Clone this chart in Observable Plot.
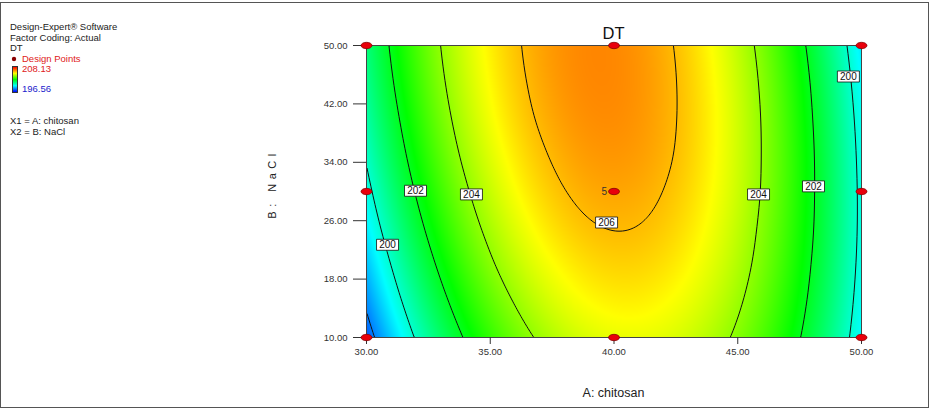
<!DOCTYPE html>
<html><head><meta charset="utf-8">
<script src="https://cdn.jsdelivr.net/npm/d3@7"></script>
<script src="https://cdn.jsdelivr.net/npm/@observablehq/plot@0.6"></script>
<style>
body{margin:0;background:#fff;font-family:Arial,"Liberation Sans",sans-serif;}
#wrap{position:relative;width:934px;height:410px;overflow:hidden;background:#fff;}
#border{position:absolute;left:0px;top:2px;width:929px;height:406px;border:1px solid #555;box-sizing:border-box;pointer-events:none;}
#chart{position:absolute;left:0;top:0;}
#over{position:absolute;left:0;top:0;}
#bar{position:absolute;left:12px;top:66px;width:4px;height:25px;border:1px solid #333;background:linear-gradient(to bottom,#ff0000,#ffff00,#00ff00,#00ffff,#0000ff);}
</style></head><body><div id="wrap"><div id="chart"></div>
<svg id="over" width="934" height="410"></svg><div id="bar"></div><div id="border"></div></div>
<script>
// Factor levels of the sampled grid
const A_levels = [30, 32, 34, 36, 38, 40, 42, 44, 46, 48, 50];
const B_levels = [10, 15, 20, 25, 30, 35, 40, 45, 50];
// DT, one row per NaCl level (A = 30 ... 50)
const DT_B10 = [197.55, 200.08, 202.09, 203.57, 204.54, 204.99, 204.92, 204.33, 203.21, 201.58, 199.43];
const DT_B15 = [198.18, 200.66, 202.62, 204.06, 204.99, 205.39, 205.27, 204.64, 203.48, 201.80, 199.60];
const DT_B20 = [198.74, 201.18, 203.10, 204.50, 205.37, 205.73, 205.57, 204.89, 203.69, 201.96, 199.72];
const DT_B25 = [199.26, 201.65, 203.52, 204.87, 205.71, 206.02, 205.81, 205.08, 203.83, 202.07, 199.78];
const DT_B30 = [199.71, 202.06, 203.88, 205.19, 205.98, 206.25, 205.99, 205.22, 203.93, 202.11, 199.78];
const DT_B35 = [200.11, 202.41, 204.19, 205.45, 206.19, 206.42, 206.12, 205.30, 203.96, 202.10, 199.72];
const DT_B40 = [200.45, 202.70, 204.44, 205.66, 206.35, 206.53, 206.18, 205.32, 203.94, 202.03, 199.61];
const DT_B45 = [200.73, 202.94, 204.63, 205.80, 206.45, 206.58, 206.19, 205.28, 203.86, 201.91, 199.44];
const DT_B50 = [200.95, 203.12, 204.76, 205.89, 206.49, 206.58, 206.15, 205.19, 203.72, 201.72, 199.21];
const dtRows = [DT_B10, DT_B15, DT_B20, DT_B25, DT_B30, DT_B35, DT_B40, DT_B45, DT_B50];

// Contour levels and their labels
const contourLevels = [198, 200, 202, 204, 206];
const labelLevel = [200, 202, 204, 206, 204, 202, 200];
const labelA = [30.85, 31.98, 34.24, 39.70, 45.84, 48.06, 49.47];
const labelB = [22.7, 30.1, 29.6, 25.75, 29.6, 30.7, 45.75];

// Design points
const designA = [30, 30, 30, 40, 40, 40, 50, 50, 50];
const designB = [10, 30, 50, 10, 30, 50, 10, 30, 50];
const designRuns = [1, 1, 1, 1, 5, 1, 1, 1, 1];

// Ticks and legend
const xTicks = [30, 35, 40, 45, 50];
const yTicks = [10, 18, 26, 34, 42, 50];
const dtMax = 208.13, dtMin = 196.56;
const colorStops = ["#0000ff", "#00ffff", "#00ff00", "#ffff00", "#ff0000"];

const points = B_levels.flatMap((B, j) => A_levels.map((A, i) => ({A, B, DT: dtRows[j][i]})));
const labels = labelLevel.map((v, i) => ({A: labelA[i], B: labelB[i], v}));
const design = designA.map((A, i) => ({A, B: designB[i], runs: designRuns[i]}));

// Smooth (Catmull-Rom bicubic) interpolator over the regular sample grid, for Plot's raster/contour
function bicubic(index, w, h, X, Y, V) {
  const nc = A_levels.length, nr = B_levels.length;
  let x0 = Infinity, x1 = -Infinity, y0 = Infinity, y1 = -Infinity;
  for (const i of index) { x0 = Math.min(x0, X[i]); x1 = Math.max(x1, X[i]); y0 = Math.min(y0, Y[i]); y1 = Math.max(y1, Y[i]); }
  const G = Array.from({length: nr}, () => new Float64Array(nc));
  for (const i of index) {
    const c = Math.round((X[i] - x0) / (x1 - x0) * (nc - 1));
    const r = Math.round((Y[i] - y0) / (y1 - y0) * (nr - 1));
    G[r][c] = V[i];
  }
  const cub = (p0, p1, p2, p3, t) =>
    0.5 * (2 * p1 + (p2 - p0) * t + (2 * p0 - 5 * p1 + 4 * p2 - p3) * t * t + (3 * p1 - p0 - 3 * p2 + p3) * t * t * t);
  const at = (arr, k, n) => k < 0 ? 3 * arr[0] - 3 * arr[1] + arr[2]
    : k > n - 1 ? 3 * arr[n - 1] - 3 * arr[n - 2] + arr[n - 3] : arr[k];
  const interp1 = (arr, n, u) => {
    let k = Math.floor(u); if (k >= n - 1) k = n - 2; if (k < 0) k = 0;
    const t = u - k;
    return cub(at(arr, k - 1, n), at(arr, k, n), at(arr, k + 1, n), at(arr, k + 2, n), t);
  };
  const out = new Float64Array(w * h);
  const rowCache = new Float64Array(nr);
  for (let px = 0; px < w; ++px) {
    let u = (px + 0.5 - x0) / (x1 - x0) * (nc - 1);
    u = Math.max(0, Math.min(nc - 1, u));
    for (let r = 0; r < nr; ++r) rowCache[r] = interp1(G[r], nc, u);
    for (let py = 0; py < h; ++py) {
      let v = (py + 0.5 - y0) / (y1 - y0) * (nr - 1);
      v = Math.max(0, Math.min(nr - 1, v));
      out[py * w + px] = interp1(rowCache, nr, v);
    }
  }
  return out;
}

const k = 0.5523;
const ellipse = {draw(ctx) {
  const rx = 5.5, ry = 3.2;
  ctx.moveTo(rx, 0);
  ctx.bezierCurveTo(rx, ry * k, rx * k, ry, 0, ry);
  ctx.bezierCurveTo(-rx * k, ry, -rx, ry * k, -rx, 0);
  ctx.bezierCurveTo(-rx, -ry * k, -rx * k, -ry, 0, -ry);
  ctx.bezierCurveTo(rx * k, -ry, rx, -ry * k, rx, 0);
  ctx.closePath();
}};
const box = {draw(ctx) { ctx.rect(-11, -5.5, 22, 11); }};

const fmt = d3.format(".2f");
const ext = {x1: 30, x2: 50, y1: 10, y2: 50};
const chart = Plot.plot({
  width: 934, height: 410,
  marginLeft: 366, marginRight: 73, marginTop: 45, marginBottom: 73,
  x: {domain: [30, 50]},
  y: {domain: [10, 50]},
  color: {type: "linear", domain: [dtMin, dtMax], interpolate: d3.piecewise(d3.interpolateRgb, colorStops)},
  style: {fontFamily: "Arial, 'Liberation Sans', sans-serif", fontSize: "9.5px", color: "#333", background: "transparent", overflow: "visible"},
  marks: [
    Plot.raster(points, {x: "A", y: "B", fill: "DT", interpolate: bicubic, ...ext, pixelSize: 1}),
    Plot.contour(points, {x: "A", y: "B", value: "DT", interpolate: bicubic, ...ext, pixelSize: 1,
      thresholds: contourLevels, stroke: "#111", fill: "none", strokeWidth: 1}),
    Plot.frame({stroke: "#444"}),
    Plot.axisX({ticks: xTicks, tickFormat: fmt, tickSize: 7, tickPadding: 4, label: null, stroke: "#333", fill: "#333"}),
    Plot.axisY({ticks: yTicks, tickFormat: fmt, tickSize: 13, tickPadding: 6, label: null, stroke: "#333", fill: "#333"}),
    Plot.dot(labels, {x: "A", y: "B", symbol: box, fill: "white", stroke: "#111", strokeWidth: 0.8}),
    Plot.text(labels, {x: "A", y: "B", text: d => String(d.v), fontSize: 10, fill: "#111"}),
    Plot.dot(design, {x: "A", y: "B", symbol: ellipse, fill: "#e8000b", stroke: "#7a0000", strokeWidth: 0.7}),
    Plot.text(design.filter(d => d.runs > 1), {x: "A", y: "B", text: d => String(d.runs), dx: -7, textAnchor: "end", fontSize: 10, fill: "#333"})
  ]
});
document.getElementById("chart").appendChild(chart);

// Texts around the plot
const over = d3.select("#over").style("font-family", "Arial, 'Liberation Sans', sans-serif");
const legend = [
  {t: "Design-Expert\u00ae Software", x: 10, y: 30, c: "#222"},
  {t: "Factor Coding: Actual", x: 10, y: 41, c: "#222"},
  {t: "DT", x: 10, y: 51, c: "#222"},
  {t: "Design Points", x: 22, y: 62, c: "#e02020"},
  {t: dtMax.toFixed(2), x: 22, y: 72, c: "#e02020"},
  {t: dtMin.toFixed(2), x: 22, y: 92, c: "#2222cc"},
  {t: "X1 = A: chitosan", x: 10, y: 124, c: "#222"},
  {t: "X2 = B: NaCl", x: 10, y: 135, c: "#222"}
];
over.selectAll("text.leg").data(legend).join("text").attr("class", "leg")
  .attr("x", d => d.x).attr("y", d => d.y).attr("fill", d => d.c).attr("font-size", 9.5).text(d => d.t);
over.append("circle").attr("cx", 14).attr("cy", 59).attr("r", 2.2).attr("fill", "#8a0000");
over.append("text").attr("x", 613.5).attr("y", 39).attr("text-anchor", "middle").attr("font-size", 16.5).attr("fill", "#111").text("DT");
over.append("text").attr("x", 613.5).attr("y", 397).attr("text-anchor", "middle").attr("font-size", 12.5).attr("fill", "#222").text("A: chitosan");
over.append("text").attr("transform", "translate(276,184) rotate(-90)").attr("text-anchor", "middle")
  .attr("font-size", 11).attr("letter-spacing", "4.5px").attr("fill", "#222").text("B: NaCl");
</script></body></html>
